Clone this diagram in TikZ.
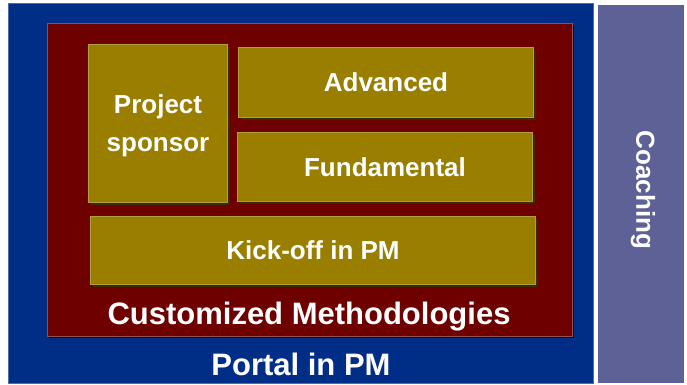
\documentclass[tikz,border=0pt]{standalone}
\usepackage{fontspec}
\setmainfont{Liberation Sans}
\usetikzlibrary{shadows}
\definecolor{portalblue}{RGB}{0,46,135}
\definecolor{methred}{RGB}{110,0,0}
\definecolor{modgold}{RGB}{153,126,0}
\definecolor{coachgray}{RGB}{94,97,150}
\tikzstyle{layer} = [rectangle, anchor=north west, inner sep=0pt, line width=0.8pt]
\tikzstyle{mod} = [rectangle, anchor=north west, inner sep=0pt, fill=modgold,
    draw=modgold!75!white, line width=1pt, text=white, align=center,
    font=\fontsize{26}{38}\selectfont\bfseries,
    drop shadow={shadow xshift=2pt, shadow yshift=-2pt, fill=modgold!35!black, opacity=1}]
\tikzstyle{biglabel} = [text=white, font=\fontsize{31}{36}\selectfont\bfseries]

\begin{document}
\begin{tikzpicture}[x=1pt,y=-1pt]
  \useasboundingbox (0,0) rectangle (687,384);

  % layers
  \node[layer, fill=portalblue, draw=portalblue!70!white,
        minimum width=585pt, minimum height=380pt] (portal) at (8,3) {};
  \node[layer, fill=coachgray, minimum width=86pt, minimum height=378pt] (coach) at (598,5) {};
  \node[layer, fill=methred, draw=methred!70!white,
        minimum width=525pt, minimum height=313pt,
        drop shadow={shadow xshift=2pt, shadow yshift=-2pt, fill=methred!40!black, opacity=1}] (meth) at (47,23) {};

  % modules
  \node[mod, minimum width=139pt, minimum height=158pt, text depth=0pt] (sponsor) at (88,44) {Project\\sponsor};
  \node[mod, minimum width=295pt, minimum height=70pt] (adv) at (238,47) {Advanced};
  \node[mod, minimum width=295pt, minimum height=69pt] (fund) at (237,132) {Fundamental};
  \node[mod, minimum width=445pt, minimum height=68pt] (kick) at (90,216) {Kick-off in PM};

  % labels
  \node[biglabel] (meth-label) at (309,317) {Customized Methodologies};
  \node[biglabel] (portal-label) at (301,364) {Portal in PM};
  \node[text=white, font=\fontsize{26}{30}\selectfont\bfseries, rotate=-90]
       (coach-label) at (643,190) {Coaching};
\end{tikzpicture}
\end{document}
